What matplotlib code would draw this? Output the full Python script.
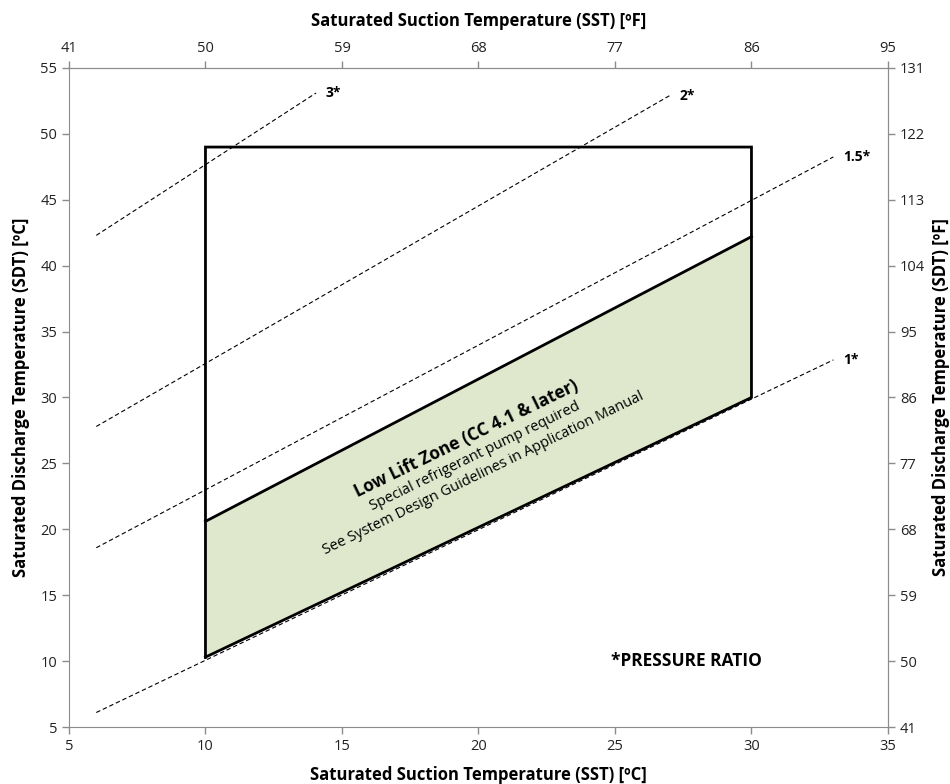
import matplotlib.pyplot as plt
import matplotlib.transforms as mtransforms

# operating envelope (SST, SDT in degC)
envelopeSst = [10, 10, 30, 30, 10]
envelopeSdt = [10.3, 49, 49, 30, 10.3]

# low lift zone
lowLiftSst = [10, 10, 30, 30]
lowLiftSdt = [10.3, 20.6, 42.2, 30]

# pressure ratio lines
ratioLabels = ['1*', '1.5*', '2*', '3*']
ratioStartSst = [6, 6, 6, 6]
ratioStartSdt = [6.1, 18.6, 27.8, 42.3]
ratioEndSst = [33, 33, 27, 14.05]
ratioEndSdt = [32.85, 48.25, 52.9, 53.1]

cTicks = [5, 10, 15, 20, 25, 30, 35]
sdtTicks = [5, 10, 15, 20, 25, 30, 35, 40, 45, 50, 55]


def toF(c):
    return int(round(c * 1.8 + 32))


axisFont = ['Open Sans', 'DejaVu Sans']
gray = '#8c8c8c'

fig = plt.figure(figsize=(9.5, 7.84), dpi=100)
ax = fig.add_axes([0.0726, 0.0727, 0.8621, 0.8406])

# low lift zone fill
ax.fill(lowLiftSst, lowLiftSdt, color='#dfe8cd', zorder=1)

# pressure ratio lines
for lab, x0, y0, x1, y1 in zip(ratioLabels, ratioStartSst, ratioStartSdt, ratioEndSst, ratioEndSdt):
    ax.plot([x0, x1], [y0, y1], color='black', lw=0.8, ls=(0, (4, 2.5)), zorder=2)
    ax.annotate(lab, (x1, y1), xytext=(7, 0), textcoords='offset points',
                ha='left', va='center', fontsize=10, fontweight='bold', family=axisFont)

# envelope outline
ax.plot(envelopeSst, envelopeSdt, color='black', lw=2, zorder=3, solid_joinstyle='miter')
ax.plot(lowLiftSst[1:3], lowLiftSdt[1:3], color='black', lw=2, zorder=3)

# low lift zone texts
angle = 26
zoneLines = [('Low Lift Zone (CC 4.1 & later)', 'bold', 12.5),
             ('Special refrigerant pump required', 'normal', 10.5),
             ('See System Design Guidelines in Application Manual', 'normal', 10.5)]
for i, (txt, weight, size) in enumerate(zoneLines):
    tr = mtransforms.offset_copy(ax.transData, fig=fig, x=6.3 * i, y=-12.8 * i, units='points')
    ax.text(19.55, 26.9, txt, transform=tr, rotation=angle, rotation_mode='anchor',
            ha='center', va='center', fontsize=size, fontweight=weight, family=axisFont, zorder=4)

ax.text(27.6, 10.0, '*PRESSURE RATIO', ha='center', va='center', fontsize=12.5,
        fontweight='bold', family=axisFont)

ax.set_xlim(5, 35)
ax.set_ylim(5, 55)
ax.set_xticks(cTicks)
ax.set_yticks(sdtTicks)
ax.set_xlabel('Saturated Suction Temperature (SST) [ºC]', fontsize=12, fontweight='bold',
              family=axisFont, labelpad=9)
ax.set_ylabel('Saturated Discharge Temperature (SDT) [ºC]', fontsize=12, fontweight='bold',
              family=axisFont, labelpad=7)

# secondary axes in degF
top = ax.secondary_xaxis('top')
top.set_xticks(cTicks)
top.set_xticklabels([str(toF(c)) for c in cTicks])
top.set_xlabel('Saturated Suction Temperature (SST) [ºF]', fontsize=12, fontweight='bold',
               family=axisFont, labelpad=11)

right = ax.secondary_yaxis('right')
right.set_yticks(sdtTicks)
right.set_yticklabels([str(toF(c)) for c in sdtTicks])
right.set_ylabel('Saturated Discharge Temperature (SDT) [ºF]', fontsize=12, fontweight='bold',
                 family=axisFont, labelpad=5)

for a in (ax, top, right):
    for sp in a.spines.values():
        sp.set_color(gray)
    a.tick_params(colors=gray, labelcolor='#222222', length=5, width=1, labelsize=10.5)
    for lbl in a.get_xticklabels() + a.get_yticklabels():
        lbl.set_family(axisFont)

fig.savefig('out.png', dpi=100)
